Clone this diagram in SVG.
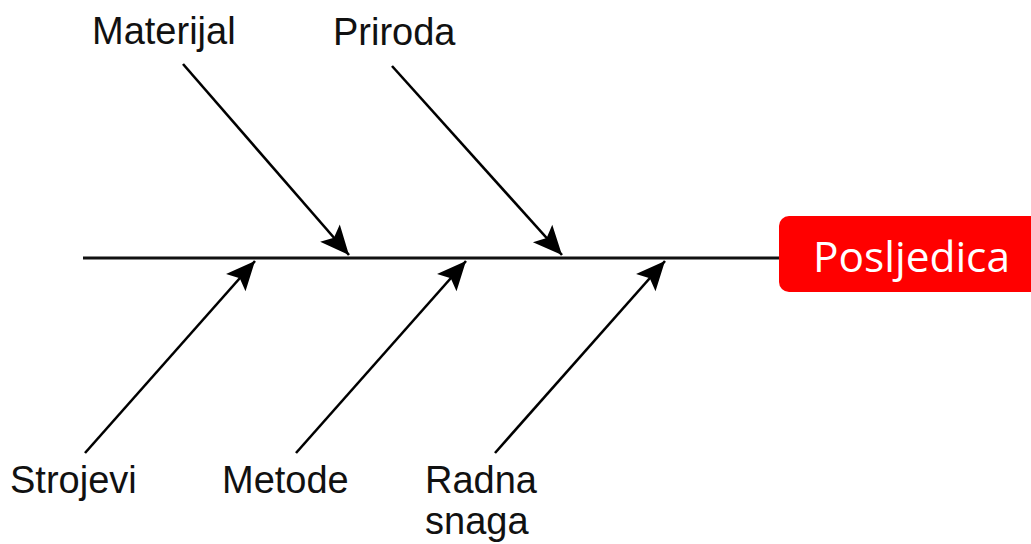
<svg xmlns="http://www.w3.org/2000/svg" width="1031" height="544" viewBox="0 0 1031 544">
<defs>
<style>
.lbl{font-family:"Liberation Sans",Arial,sans-serif;font-size:38px;fill:#111}
.bone{stroke:#000;stroke-width:2.6;fill:none}
.spine{stroke:#111;stroke-width:3;fill:none}
</style>
<marker id="ah" markerUnits="userSpaceOnUse" markerWidth="36" markerHeight="34" viewBox="-2 -17 36 34" refX="29" refY="0" orient="auto">
<path d="M0,-13 L29,0 L0,13 L6,0 Z" fill="#000"/>
</marker>
</defs>
<rect width="1031" height="544" fill="#fff"/>
<g id="connectors">
<line class="spine" x1="83" y1="258" x2="782" y2="258"/>
<line class="bone" x1="183" y1="64" x2="349" y2="255" marker-end="url(#ah)"/>
<line class="bone" x1="392" y1="66" x2="562" y2="255" marker-end="url(#ah)"/>
<line class="bone" x1="85" y1="453" x2="255" y2="261" marker-end="url(#ah)"/>
<line class="bone" x1="296" y1="453" x2="466" y2="261" marker-end="url(#ah)"/>
<line class="bone" x1="495" y1="453" x2="665" y2="261" marker-end="url(#ah)"/>
</g>
<g id="effect">
<rect x="779" y="216" width="270" height="76" rx="10" ry="10" fill="#ff0000"/>
<text x="813" y="272" font-family="'Open Sans','Noto Sans',sans-serif" font-size="42" fill="#fff" textLength="197" lengthAdjust="spacingAndGlyphs">Posljedica</text>
</g>
<g id="materijal"><text class="lbl" x="92" y="44">Materijal</text></g>
<g id="priroda"><text class="lbl" x="333" y="45">Priroda</text></g>
<g id="strojevi"><text class="lbl" x="10" y="493">Strojevi</text></g>
<g id="metode"><text class="lbl" x="222" y="493">Metode</text></g>
<g id="radna-snaga"><text class="lbl" x="425" y="493">Radna</text><text class="lbl" x="425" y="534">snaga</text></g>
</svg>
